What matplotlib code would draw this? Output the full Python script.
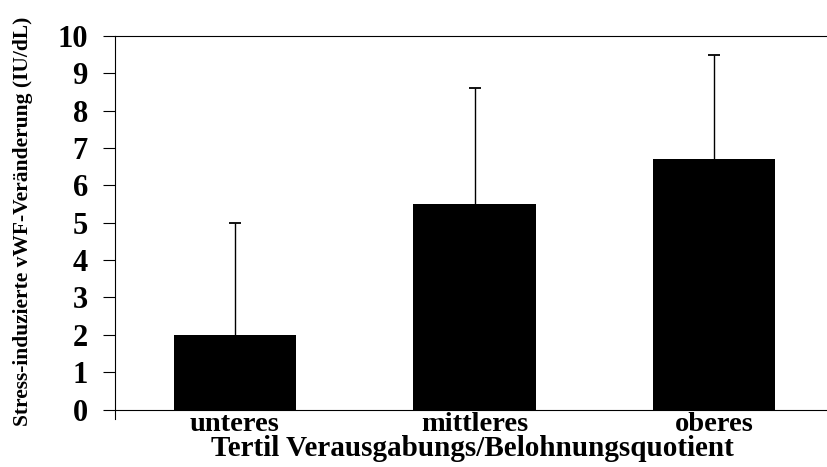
import numpy as np
import matplotlib.pyplot as plt

# tertile groups and mean stress-induced vWF change with upper error bar
tertile = ["unteres", "mittleres", "oberes"]
vwf_change = [2.0, 5.5, 6.7]
vwf_err = [3.0, 3.1, 2.8]
yticks = [0, 1, 2, 3, 4, 5, 6, 7, 8, 9, 10]

plt.rcParams['font.family'] = ['Liberation Serif', 'DejaVu Serif']
plt.rcParams['font.weight'] = 'bold'

fig = plt.figure(figsize=(8.27, 4.67), dpi=100)
ax = fig.add_axes([0.139, 0.103, 0.861, 0.820])

x = np.arange(len(tertile))
err_top = np.add(vwf_change, vwf_err)
ax.bar(x, vwf_change, width=0.51, color='black', zorder=2)
# upper whisker only, with a small cap at its end
ax.vlines(x, vwf_change, err_top, color='black', linewidth=1, zorder=1)
ax.plot(x, err_top, ls='none', marker='_', ms=8, mew=1.3, color='black')

ax.set_xlim(-0.5, 2.47)
ax.set_ylim(-0.25, 10)
ax.set_yticks(yticks)
ax.set_xticks(x)
ax.set_xticklabels(tertile, fontsize=20.5, fontweight='bold', va='baseline')
ax.tick_params(axis='x', length=0, pad=8.6)
ax.tick_params(axis='y', length=8.5, width=0.8, pad=11, labelsize=22)
for lab in ax.get_yticklabels():
    lab.set_fontweight('bold')

ax.spines['right'].set_visible(False)
ax.spines['bottom'].set_visible(False)
ax.spines['top'].set_linewidth(0.8)
ax.spines['left'].set_linewidth(0.8)
ax.axhline(0, color='black', linewidth=0.8, zorder=3)

# axis title under the category labels
fig.text(0.571, 1 - 456 / 467, "Tertil Verausgabungs/Belohnungsquotient",
         fontsize=21, fontweight='bold', ha='center', va='baseline')
ax.set_ylabel("Stress-induzierte vWF-Veränderung (IU/dL)", fontsize=15.5,
              fontweight='bold')
ax.yaxis.set_label_coords(-0.115, 0.517)

fig.savefig("out.png", dpi=100)
